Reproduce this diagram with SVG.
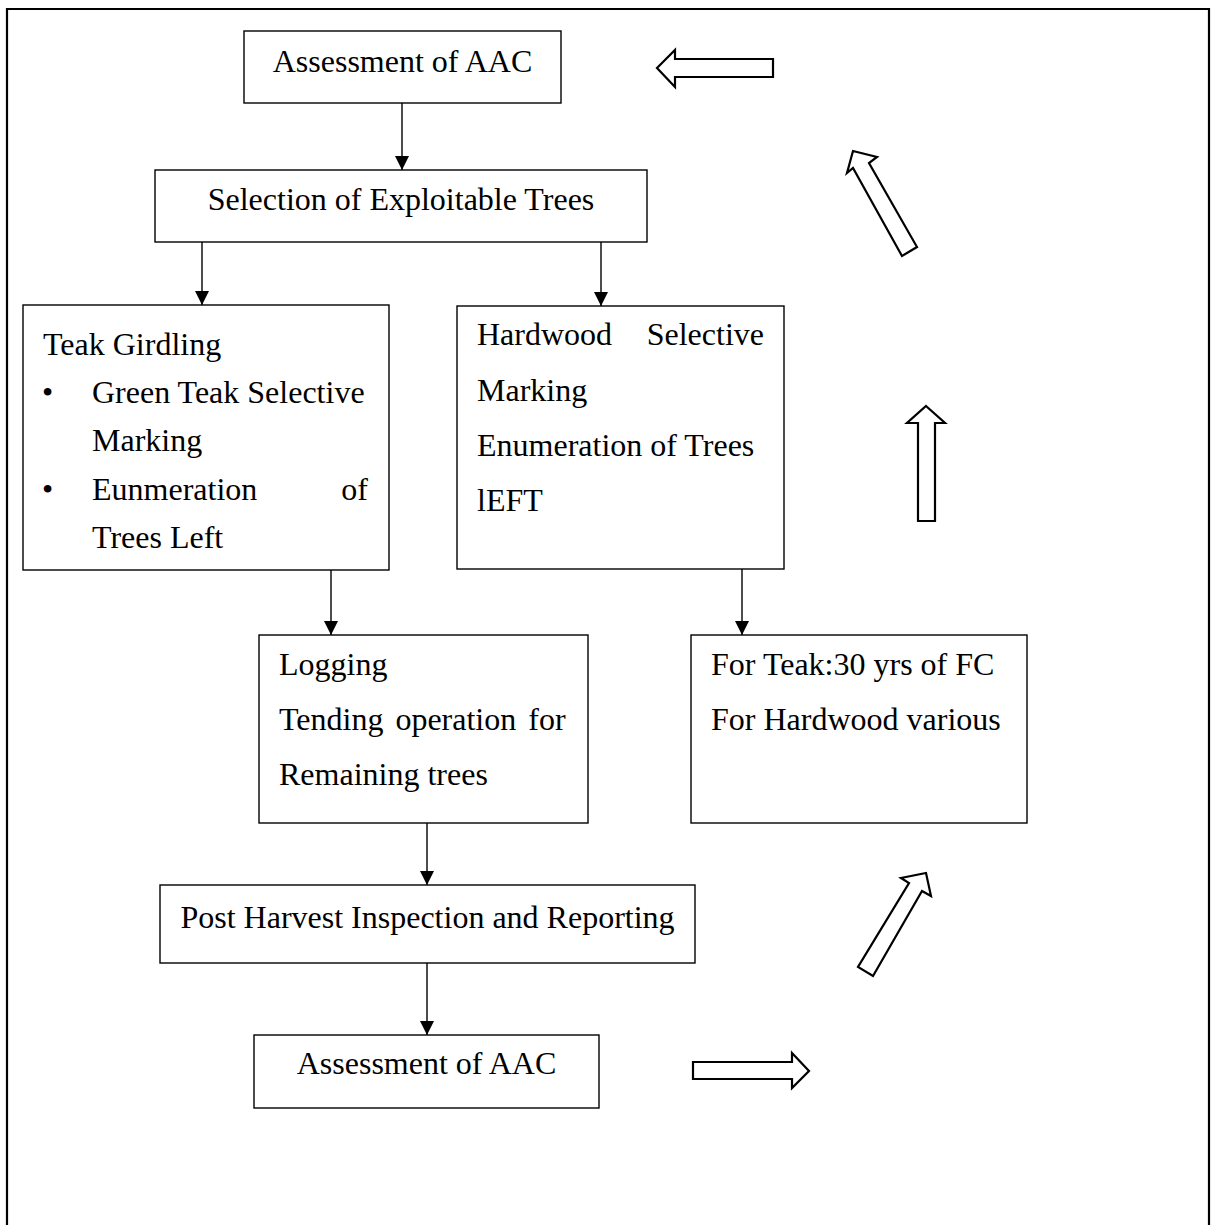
<svg xmlns="http://www.w3.org/2000/svg" width="1214" height="1225" viewBox="0 0 1214 1225">
<style>
.box{fill:#fff;stroke:#000;stroke-width:1.4}
.t{font-family:"Liberation Serif","Times New Roman",serif;font-size:32px;fill:#000}
.c{text-anchor:middle}
.e{text-anchor:end}
.con{stroke:#000;stroke-width:1.4;fill:none}
.blk{fill:#fff;stroke:#000;stroke-width:2.2;stroke-linejoin:miter}
</style>
<defs>
<marker id="ah" markerUnits="userSpaceOnUse" markerWidth="14" markerHeight="16" viewBox="0 0 14 16" refX="14" refY="7" orient="auto">
<path d="M0,0 L14,7 L0,14 Z" fill="#000"/>
</marker>
</defs>
<rect width="1214" height="1225" fill="#fff"/>
<path d="M7,1230 V9 H1209 V1230" fill="none" stroke="#000" stroke-width="2.2"/>

<g id="connectors">
<line class="con" x1="402" y1="103" x2="402" y2="170" marker-end="url(#ah)"/>
<line class="con" x1="202" y1="242" x2="202" y2="305" marker-end="url(#ah)"/>
<line class="con" x1="601" y1="242" x2="601" y2="306" marker-end="url(#ah)"/>
<line class="con" x1="331" y1="570" x2="331" y2="635" marker-end="url(#ah)"/>
<line class="con" x1="742" y1="569" x2="742" y2="635" marker-end="url(#ah)"/>
<line class="con" x1="427" y1="823" x2="427" y2="885" marker-end="url(#ah)"/>
<line class="con" x1="427" y1="963" x2="427" y2="1035" marker-end="url(#ah)"/>
</g>

<g id="block-arrows">
<polygon class="blk" points="773,59 675,59 675,50 657,68 675,87 675,77 773,77"/>
<polygon class="blk" points="853,151 877,157 869,163 917,247 902,256 853,168 847,173"/>
<polygon class="blk" points="926,406 945,423 935,423 935,521 918,521 918,423 907,423"/>
<polygon class="blk" points="926,873 931,896 922,891 873,976 858,967 909,883 901,878"/>
<polygon class="blk" points="693,1062 792,1062 792,1053 809,1071 792,1088 792,1079 693,1079"/>
</g>

<g id="n1">
<rect class="box" x="244" y="31" width="317" height="72"/>
<text class="t c" x="402.5" y="72">Assessment of AAC</text>
</g>
<g id="n2">
<rect class="box" x="155" y="170" width="492" height="72"/>
<text class="t c" x="401" y="210">Selection of Exploitable Trees</text>
</g>
<g id="n3">
<rect class="box" x="23" y="305" width="366" height="265"/>
<text class="t" x="43" y="355">Teak Girdling</text>
<text class="t" x="42" y="403">•</text>
<text class="t" x="92" y="403">Green Teak Selective</text>
<text class="t" x="92" y="451">Marking</text>
<text class="t" x="42" y="500">•</text>
<text class="t" x="92" y="500">Eunmeration</text>
<text class="t e" x="368" y="500">of</text>
<text class="t" x="92" y="548">Trees Left</text>
</g>
<g id="n4">
<rect class="box" x="457" y="306" width="327" height="263"/>
<text class="t" x="477" y="345">Hardwood</text>
<text class="t e" x="764" y="345">Selective</text>
<text class="t" x="477" y="401">Marking</text>
<text class="t" x="477" y="456">Enumeration of Trees</text>
<text class="t" x="477" y="511">lEFT</text>
</g>
<g id="n5">
<rect class="box" x="259" y="635" width="329" height="188"/>
<text class="t" x="279" y="675">Logging</text>
<text class="t" x="279" y="730" word-spacing="4">Tending operation for</text>
<text class="t" x="279" y="785">Remaining trees</text>
</g>
<g id="n6">
<rect class="box" x="691" y="635" width="336" height="188"/>
<text class="t" x="711" y="675">For Teak:30 yrs of FC</text>
<text class="t" x="711" y="730">For Hardwood various</text>
</g>
<g id="n7">
<rect class="box" x="160" y="885" width="535" height="78"/>
<text class="t c" x="427.5" y="928">Post Harvest Inspection and Reporting</text>
</g>
<g id="n8">
<rect class="box" x="254" y="1035" width="345" height="73"/>
<text class="t c" x="426.5" y="1074">Assessment of AAC</text>
</g>
</svg>
